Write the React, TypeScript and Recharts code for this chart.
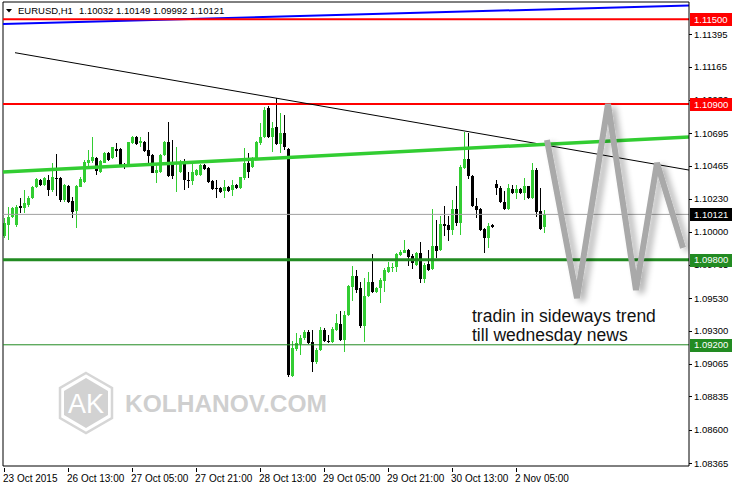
import React from 'react';
import { ComposedChart, Bar, Line, XAxis, YAxis, ReferenceLine } from 'recharts';

// EURUSD H1 candles, 23 Oct 21:00 .. 2 Nov 11:00
const OPEN = [
  1.09965, 1.10047, 1.10106, 1.10047, 1.10181, 1.10165, 1.10188, 1.10235, 1.10317, 1.10364,
  1.10329, 1.10364, 1.10294, 1.10379, 1.10376, 1.10223, 1.10322, 1.10216, 1.10148, 1.10317,
  1.10353, 1.10487, 1.10501, 1.10517, 1.10423, 1.10487, 1.10557, 1.10517, 1.10583, 1.10583,
  1.10470, 1.10458, 1.10623, 1.10670, 1.10623, 1.10635, 1.10576, 1.10541, 1.10416, 1.10423,
  1.10541, 1.10635, 1.10494, 1.10482, 1.10423, 1.10499, 1.10364, 1.10360, 1.10400, 1.10400,
  1.10470, 1.10447, 1.10360, 1.10310, 1.10306, 1.10289, 1.10317, 1.10294, 1.10329, 1.10306,
  1.10381, 1.10482, 1.10458, 1.10517, 1.10623, 1.10670, 1.10870, 1.10670, 1.10741, 1.10618,
  1.10694, 1.10581, 1.08977, 1.09169, 1.09207, 1.09251, 1.09287, 1.09219, 1.09075, 1.09160,
  1.09301, 1.09230, 1.09223, 1.09306, 1.09348, 1.09235, 1.09411, 1.09611, 1.09686, 1.09599,
  1.09334, 1.09545, 1.09646, 1.09576, 1.09604, 1.09653, 1.09717, 1.09740, 1.09752, 1.09834,
  1.09851, 1.09870, 1.09827, 1.09764, 1.09846, 1.09663, 1.09773, 1.09735, 1.09895, 1.09867,
  1.10055, 1.10048, 1.10013, 1.10158, 1.10060, 1.10452, 1.10511, 1.10393, 1.10182, 1.10158,
  1.10017, 1.09954, 1.10045, 1.10337, 1.10306, 1.10212, 1.10158, 1.10299, 1.10271, 1.10299,
  1.10271, 1.10318, 1.10236, 1.10436, 1.10142, 1.10032,
];
const HIGH = [
  1.10094, 1.10176, 1.10176, 1.10188, 1.10235, 1.10294, 1.10252, 1.10324, 1.10376, 1.10374,
  1.10383, 1.10400, 1.10482, 1.10546, 1.10383, 1.10336, 1.10329, 1.10247, 1.10329, 1.10383,
  1.10505, 1.10576, 1.10670, 1.10529, 1.10505, 1.10564, 1.10564, 1.10599, 1.10623, 1.10590,
  1.10482, 1.10635, 1.10677, 1.10675, 1.10670, 1.10642, 1.10705, 1.10548, 1.10470, 1.10548,
  1.10642, 1.10776, 1.10647, 1.10599, 1.10505, 1.10510, 1.10423, 1.10482, 1.10442, 1.10477,
  1.10477, 1.10454, 1.10364, 1.10364, 1.10313, 1.10364, 1.10322, 1.10364, 1.10334, 1.10388,
  1.10588, 1.10552, 1.10524, 1.10642, 1.10764, 1.10881, 1.10886, 1.10776, 1.10940, 1.10834,
  1.10823, 1.10588, 1.09228, 1.09282, 1.09270, 1.09306, 1.09306, 1.09301, 1.09176, 1.09329,
  1.09317, 1.09270, 1.09324, 1.09418, 1.09442, 1.09440, 1.09623, 1.09757, 1.09729, 1.09646,
  1.09670, 1.09717, 1.09841, 1.09611, 1.09670, 1.09740, 1.09787, 1.09776, 1.09851, 1.09870,
  1.09940, 1.09874, 1.09841, 1.09858, 1.09928, 1.09776, 1.09872, 1.10158, 1.10083, 1.10107,
  1.10182, 1.10107, 1.10224, 1.10323, 1.10471, 1.10706, 1.10699, 1.10400, 1.10236, 1.10165,
  1.10024, 1.10060, 1.10050, 1.10365, 1.10318, 1.10283, 1.10337, 1.10330, 1.10330, 1.10306,
  1.10377, 1.10323, 1.10487, 1.10447, 1.10306, 1.10149,
];
const LOW = [
  1.09953, 1.09942, 1.10094, 1.10035, 1.10129, 1.10129, 1.10176, 1.10228, 1.10310, 1.10322,
  1.10322, 1.10252, 1.10282, 1.10252, 1.10212, 1.10212, 1.10200, 1.10099, 1.10024, 1.10313,
  1.10346, 1.10458, 1.10482, 1.10400, 1.10416, 1.10482, 1.10498, 1.10510, 1.10529, 1.10458,
  1.10444, 1.10454, 1.10616, 1.10611, 1.10599, 1.10564, 1.10470, 1.10411, 1.10341, 1.10416,
  1.10534, 1.10388, 1.10369, 1.10282, 1.10411, 1.10294, 1.10306, 1.10329, 1.10393, 1.10393,
  1.10435, 1.10346, 1.10294, 1.10235, 1.10275, 1.10235, 1.10282, 1.10252, 1.10299, 1.10299,
  1.10364, 1.10376, 1.10451, 1.10510, 1.10611, 1.10658, 1.10658, 1.10564, 1.10611, 1.10552,
  1.10576, 1.08972, 1.08970, 1.09153, 1.09129, 1.09235, 1.09207, 1.09005, 1.09066, 1.09153,
  1.09223, 1.09216, 1.09216, 1.09294, 1.09230, 1.09146, 1.09405, 1.09510, 1.09569, 1.09322,
  1.09223, 1.09536, 1.09564, 1.09564, 1.09494, 1.09576, 1.09710, 1.09717, 1.09717, 1.09827,
  1.09846, 1.09757, 1.09733, 1.09757, 1.09639, 1.09634, 1.09719, 1.09726, 1.09813, 1.09860,
  1.09966, 1.09930, 1.09977, 1.10036, 1.09977, 1.10440, 1.10370, 1.10172, 1.10095, 1.10001,
  1.09848, 1.09883, 1.10026, 1.10259, 1.10200, 1.10154, 1.10154, 1.10266, 1.10229, 1.10264,
  1.10224, 1.10229, 1.10229, 1.10102, 1.10013, 1.09992,
];
const CLOSE = [
  1.10059, 1.10106, 1.10165, 1.10176, 1.10165, 1.10200, 1.10240, 1.10317, 1.10369, 1.10329,
  1.10376, 1.10294, 1.10383, 1.10369, 1.10223, 1.10329, 1.10205, 1.10141, 1.10320, 1.10369,
  1.10494, 1.10505, 1.10524, 1.10428, 1.10498, 1.10557, 1.10505, 1.10595, 1.10571, 1.10466,
  1.10454, 1.10630, 1.10670, 1.10618, 1.10642, 1.10571, 1.10534, 1.10416, 1.10435, 1.10541,
  1.10635, 1.10393, 1.10393, 1.10494, 1.10494, 1.10364, 1.10357, 1.10423, 1.10435, 1.10470,
  1.10442, 1.10353, 1.10301, 1.10299, 1.10282, 1.10317, 1.10289, 1.10329, 1.10306, 1.10383,
  1.10487, 1.10423, 1.10517, 1.10635, 1.10670, 1.10858, 1.10665, 1.10729, 1.10616, 1.10694,
  1.10595, 1.08988, 1.09176, 1.09212, 1.09251, 1.09287, 1.09216, 1.09075, 1.09165, 1.09301,
  1.09230, 1.09223, 1.09313, 1.09353, 1.09235, 1.09411, 1.09616, 1.09686, 1.09588, 1.09334,
  1.09545, 1.09646, 1.09576, 1.09599, 1.09658, 1.09729, 1.09752, 1.09752, 1.09841, 1.09858,
  1.09870, 1.09818, 1.09776, 1.09846, 1.09663, 1.09764, 1.09731, 1.09900, 1.09860, 1.10055,
  1.10041, 1.10013, 1.10158, 1.10060, 1.10459, 1.10511, 1.10393, 1.10182, 1.10149, 1.10013,
  1.09954, 1.10036, 1.10031, 1.10306, 1.10205, 1.10158, 1.10306, 1.10271, 1.10299, 1.10271,
  1.10318, 1.10236, 1.10436, 1.10135, 1.10017, 1.10121,
];

const TIME_TICKS = [0, 16, 32, 48, 64, 80, 96, 112, 128];
const TIME_LABELS = [
  '23 Oct 2015', '26 Oct 13:00', '27 Oct 05:00', '27 Oct 21:00', '28 Oct 13:00',
  '29 Oct 05:00', '29 Oct 21:00', '30 Oct 13:00', '2 Nov 05:00',
];
const PRICE_TICKS = [
  1.11395, 1.11165, 1.1093, 1.10695, 1.10465, 1.1023, 1.1, 1.09765, 1.0953, 1.093,
  1.09065, 1.08835, 1.086, 1.08365,
];

const RESISTANCE = [1.115, 1.109];
const SUPPORT = [1.098, 1.092];
const BID = 1.10121;

// drawn lines (bar index, price)
const TREND_LINE = [{ i: 2.75, p: 1.11263 }, { i: 171.25, p: 1.10434 }];
const MA_GREEN = [{ i: -0.25, p: 1.1042 }, { i: 171.25, p: 1.10668 }];
const MA_BLUE = [{ i: -0.25, p: 1.11466 }, { i: 171.25, p: 1.11596 }];
const ZIGZAG = [
  { i: 135.75, p: 1.10646 },
  { i: 143.25, p: 1.0953 },
  { i: 151, p: 1.10901 },
  { i: 158, p: 1.09587 },
  { i: 163.25, p: 1.10484 },
  { i: 169.75, p: 1.09884 },
];

const X_DOMAIN = [-0.25, 171.25];
const Y_DOMAIN = [1.08344, 1.11621];

const FONT = '"Liberation Sans", Arial, sans-serif';
const BULL = '#32CD32';
const LEVEL_GREEN = '#228B22';
const RED = '#ff0000';

const TAG_PRICES = [...RESISTANCE, BID, ...SUPPORT];
const tagColor = (v: number) => (RESISTANCE.includes(v) ? RED : SUPPORT.includes(v) ? LEVEL_GREEN : '#000');

const candles = OPEN.map((o, k) => ({ i: k, o, hi: HIGH[k], lo: LOW[k], c: CLOSE[k] }));

const Candle = (props: any) => {
  const { x, y, width, height, payload } = props;
  if (x == null || y == null) return null;
  const top = Math.min(y, y + height);
  const h = Math.abs(height);
  const { o, hi, lo, c } = payload;
  const range = hi - lo || 1;
  const py = (v: number) => top + ((hi - v) / range) * h;
  const color = c >= o ? BULL : '#000';
  const cx = Math.round(x + width / 2);
  const bTop = Math.round(py(Math.max(o, c)));
  const bBot = Math.round(py(Math.min(o, c)));
  return (
    <g>
      <line x1={cx + 0.5} x2={cx + 0.5} y1={Math.round(top)} y2={Math.round(top + h)} stroke={color} strokeWidth={1} />
      <rect x={cx - 1} y={bTop} width={3} height={Math.max(1, bBot - bTop)} fill={color} />
    </g>
  );
};

const XTick = (props: any) => {
  const { x, y, payload } = props;
  const idx = TIME_TICKS.indexOf(payload.value);
  return (
    <g>
      <line x1={Math.round(x) + 0.5} x2={Math.round(x) + 0.5} y1={y} y2={y + 4} stroke="#000" />
      <text x={x - 1} y={y + 14} textAnchor="start" fontSize={10} fontFamily={FONT} fill="#000">
        {TIME_LABELS[idx]}
      </text>
    </g>
  );
};

// price ticks first, level tags last so the tags paint over the hidden labels
const YTick = (props: any) => {
  const { x, y, payload, index } = props;
  const v = payload.value;
  if (index >= PRICE_TICKS.length) {
    return (
      <g>
        <rect x={x + 1} y={Math.round(y) - 6} width={43} height={13} fill={tagColor(v)} />
        <text x={x + 5} y={y + 3.5} fontSize={9.5} fontFamily={FONT} fill="#fff">
          {v.toFixed(5)}
        </text>
      </g>
    );
  }
  return (
    <g>
      <line x1={x} x2={x + 3} y1={Math.round(y) + 0.5} y2={Math.round(y) + 0.5} stroke="#000" />
      <text x={x + 5} y={y + 3.5} textAnchor="start" fontSize={9.5} fontFamily={FONT} fill="#000">
        {v.toFixed(5)}
      </text>
    </g>
  );
};

const Watermark = () => (
  <svg width={732} height={485} style={{ position: 'absolute', left: 0, top: 0 }}>
    <polygon
      points="86,373 112,388 112,418 86,433 60,418 60,388"
      fill="none"
      stroke="#d6d6d6"
      strokeWidth={2.5}
    />
    <polygon points="86,378 108,391 108,415 86,428 64,415 64,391" fill="#d2d2d2" />
    <text x={86} y={413} textAnchor="middle" fontSize={27} fontFamily={FONT} fill="#fff">
      AK
    </text>
    <text x={125} y={412} fontSize={24.5} fontWeight="bold" fontFamily={FONT} fill="#cfcfcf">
      KOLHANOV.COM
    </text>
  </svg>
);

const Overlay = () => (
  <svg width={732} height={485} style={{ position: 'absolute', left: 0, top: 0, pointerEvents: 'none' }}>
    <polygon points="6,9 12,9 9,12.5" fill="#000" />
    <text x={18} y={14} fontSize={9.5} fontFamily={FONT} fill="#000">
      EURUSD,H1
    </text>
    <text x={79} y={14} fontSize={9.5} fontFamily={FONT} fill="#000">
      1.10032 1.10149 1.09992 1.10121
    </text>
    <text x={472} y={322} fontSize={17.5} fontFamily={FONT} fill="#111">
      tradin in sideways trend
    </text>
    <text x={472} y={341} fontSize={17.5} fontFamily={FONT} fill="#111">
      till wednesday news
    </text>
  </svg>
);

export default function App() {
  return (
    <div style={{ position: 'absolute', left: 0, top: 0, width: 732, height: 485, background: '#fff' }}>
      <Watermark />
      <div style={{ position: 'absolute', left: 0, top: 0 }}>
        <ComposedChart width={732} height={485} data={candles} margin={{ top: 2, right: 0, bottom: 0, left: 3 }}>
          <defs>
            <filter id="zzShadow" x="-30%" y="-10%" width="160%" height="130%">
              <feGaussianBlur in="SourceAlpha" stdDeviation="3" />
              <feOffset dx="5" dy="3" result="blur" />
              <feComponentTransfer>
                <feFuncA type="linear" slope="0.3" />
              </feComponentTransfer>
              <feMerge>
                <feMergeNode />
                <feMergeNode in="SourceGraphic" />
              </feMerge>
            </filter>
          </defs>
          <XAxis
            type="number"
            dataKey="i"
            domain={X_DOMAIN}
            ticks={TIME_TICKS}
            interval={0}
            height={19}
            tickSize={0}
            tickLine={false}
            axisLine={{ stroke: '#000' }}
            tick={XTick}
            allowDataOverflow
          />
          <YAxis
            type="number"
            orientation="right"
            domain={Y_DOMAIN}
            ticks={[...PRICE_TICKS, ...TAG_PRICES]}
            interval={0}
            width={43}
            tickSize={0}
            tickMargin={0}
            tickLine={false}
            axisLine={{ stroke: '#000' }}
            tick={YTick}
            allowDataOverflow
          />
          <ReferenceLine x={X_DOMAIN[0]} stroke="#000" />
          <ReferenceLine y={Y_DOMAIN[1]} stroke="#000" />
          <ReferenceLine y={BID} stroke="#a0a0a0" strokeWidth={1} />
          <Bar dataKey={(d: any) => [d.lo, d.hi]} barSize={3} shape={Candle} isAnimationActive={false} />
          <ReferenceLine
            segment={MA_BLUE.map((pt) => ({ x: pt.i, y: pt.p }))}
            stroke="#0000ff"
            strokeWidth={2}
          />
          <ReferenceLine y={RESISTANCE[0]} stroke={RED} strokeWidth={2} />
          <ReferenceLine y={RESISTANCE[1]} stroke={RED} strokeWidth={2} />
          <ReferenceLine y={SUPPORT[0]} stroke={LEVEL_GREEN} strokeWidth={3} />
          <ReferenceLine y={SUPPORT[1]} stroke={LEVEL_GREEN} strokeWidth={1} />
          <ReferenceLine
            segment={TREND_LINE.map((pt) => ({ x: pt.i, y: pt.p }))}
            stroke="#000"
            strokeWidth={1}
          />
          <ReferenceLine
            segment={MA_GREEN.map((pt) => ({ x: pt.i, y: pt.p }))}
            stroke={BULL}
            strokeWidth={3.5}
          />
          <Line
            data={ZIGZAG}
            dataKey="p"
            type="linear"
            stroke="#a9a9a9"
            strokeWidth={6}
            dot={false}
            activeDot={false}
            filter="url(#zzShadow)"
            isAnimationActive={false}
          />
        </ComposedChart>
      </div>
      <Overlay />
    </div>
  );
}
